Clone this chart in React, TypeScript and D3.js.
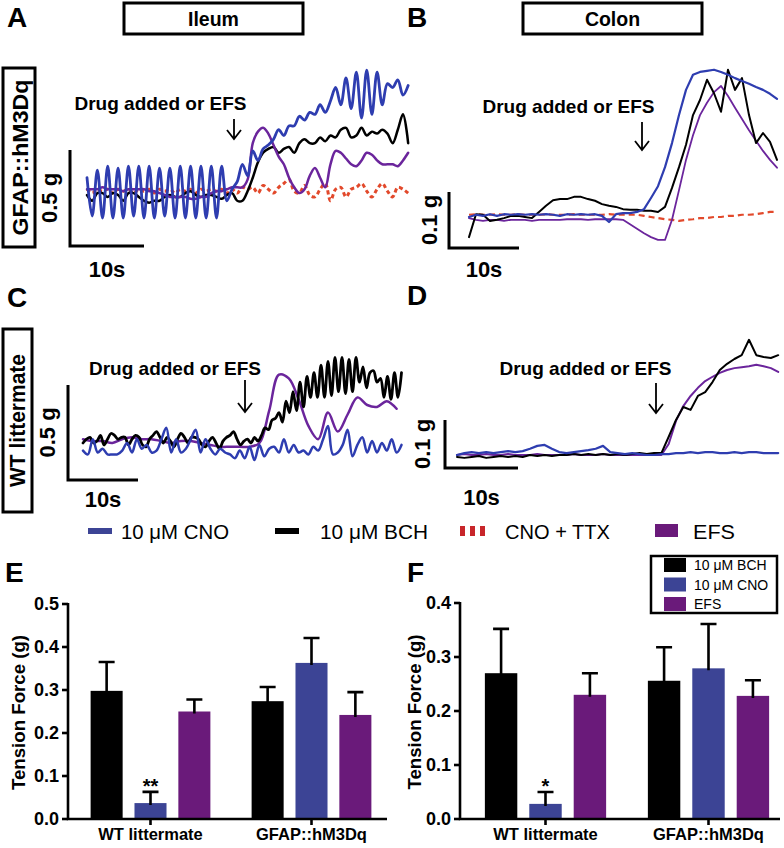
import React from 'react';
import * as d3 from 'd3';

const FONT = 'Liberation Sans, Arial, Helvetica, sans-serif';
const BLUE = '#2e3db0';
const PURPLE = '#6b259c';
const RED = '#e2492b';
const BAR_BLUE = '#3c4495';
const BAR_PURPLE = '#6a1a7a';

// ---------- isometric tension traces, g above resting baseline ----------

// A: ileum, GFAP::hM3Dq — one sample every 0.7 s
const ileumGfapDt = 0.7;
const ileumGfapCno = [
  0.09, -0.11, 0.13, -0.12, 0.15, -0.12, 0.14, -0.12, 0.15, -0.11, 0.15, -0.12, 0.15, -0.12, 0.14, -0.11,
  0.14, -0.12, 0.15, -0.12, 0.15, -0.12, 0.15, -0.12, 0.15, -0.12, 0.15, -0.03, 0.03, 0.07, 0.16, 0.1,
  0.23, 0.18, 0.24, 0.26, 0.29, 0.34, 0.31, 0.36, 0.36, 0.41, 0.39, 0.43, 0.42, 0.47, 0.43, 0.49,
  0.56, 0.47, 0.61, 0.45, 0.64, 0.4, 0.65, 0.42, 0.64, 0.47, 0.58, 0.56, 0.6, 0.52, 0.57,
];
const ileumGfapBch = [
  0, -0.03, 0.01, 0.01, -0.01, 0.01, 0, -0.03, 0.01, 0.01, -0.01, -0.03, -0.04, -0.03, -0.03, -0.01,
  0, -0.01, -0.01, 0.01, 0.02, 0, -0.01, 0, 0, -0.01, -0.02, 0, 0.01, -0.03, -0.03, 0.02,
  0.09, 0.17, 0.22, 0.24, 0.25, 0.22, 0.24, 0.25, 0.22, 0.27, 0.29, 0.27, 0.27, 0.3, 0.28, 0.31,
  0.3, 0.34, 0.35, 0.3, 0.31, 0.35, 0.31, 0.33, 0.32, 0.34, 0.32, 0.27, 0.34, 0.42, 0.27,
];
const ileumGfapEfs = [
  0.03, 0.03, 0.03, 0.04, 0.03, 0.03, 0.03, 0.02, 0.03, 0.03, 0.03, 0.03, 0.02, 0.02, 0.01, 0,
  -0.01, -0.01, -0.01, -0.01, -0.02, -0.02, -0.01, -0.01, 0.01, 0.02, 0.02, 0.03, 0.04, 0.04, 0.04, 0.08,
  0.27, 0.33, 0.35, 0.32, 0.26, 0.2, 0.16, 0.09, 0.04, 0.01, 0.03, 0.1, 0.14, 0.09, 0.04, 0.16,
  0.23, 0.22, 0.19, 0.16, 0.15, 0.18, 0.22, 0.21, 0.18, 0.16, 0.16, 0.16, 0.15, 0.18, 0.22,
];
const ileumGfapTtx = [
  0.03, 0.01, 0.03, 0.02, 0.03, 0.01, 0.03, 0.02, 0.03, 0.01, 0.03, 0.02, 0.03, 0.01, 0.03, 0.02,
  0.03, 0.01, 0.03, 0.02, 0.03, 0.01, 0.03, 0.02, 0.03, 0.02, 0.03, 0.01, 0.03, 0.01, 0.04, 0.03,
  0.04, 0.01, 0.05, 0.03, 0.01, 0.04, 0.06, 0.08, 0.02, 0.01, 0.05, 0, -0.01, 0.03, 0.06, -0.03,
  0.03, 0.04, -0.01, 0.03, 0.04, 0.06, 0.02, -0.01, 0.03, 0.06, 0.02, -0.01, 0.04, 0.03, 0.01,
];

// B: colon, GFAP::hM3Dq — one sample per second
const colonGfapDt = 1;
const colonGfapCno = [
  0, 0.004, 0.002, 0.005, 0.002, 0.005, 0.004, 0.005, 0.004, 0.005, 0.004, 0.005, 0.004, 0.002, 0.005,
  0.004, 0.005, 0.004, 0.005, 0.002, -0.009, 0.005, 0.007, 0.007, 0.009, 0.014, 0.034, 0.055, 0.089, 0.132,
  0.182, 0.227, 0.254, 0.259, 0.261, 0.263, 0.259, 0.254, 0.248, 0.243, 0.238, 0.232, 0.227, 0.22, 0.211,
];
const colonGfapBch = [
  -0.036, 0.005, 0.004, -0.007, -0.005, -0.002, 0.002, 0.002, 0, -0.002, 0.009, 0.02, 0.03, 0.032, 0.032,
  0.036, 0.036, 0.032, 0.029, 0.023, 0.02, 0.018, 0.014, 0.013, 0.013, 0.011, 0.011, 0.009, 0.018, 0.052,
  0.089, 0.129, 0.182, 0.209, 0.245, 0.221, 0.188, 0.263, 0.227, 0.248, 0.182, 0.132, 0.15, 0.134, 0.102,
];
const colonGfapEfs = [
  -0.002, -0.005, -0.007, -0.005, -0.005, -0.007, -0.005, -0.005, -0.005, -0.007, -0.005, -0.005, -0.005, -0.005, -0.004,
  -0.004, -0.004, -0.005, -0.004, -0.004, -0.004, -0.004, -0.005, -0.013, -0.021, -0.029, -0.036, -0.041, -0.041, -0.005,
  0.048, 0.102, 0.146, 0.182, 0.204, 0.223, 0.234, 0.216, 0.195, 0.175, 0.155, 0.136, 0.118, 0.102, 0.088,
];
const colonGfapTtx = [
  0.004, 0.005, 0.004, 0.004, 0.005, 0.004, 0.004, 0.005, 0.004, 0.004, 0.004, 0.005, 0.004, 0.004, 0.004,
  0.005, 0.004, 0.004, 0.004, 0.004, 0.005, 0.004, 0.004, 0.004, 0.004, 0.002, 0, -0.002, -0.004, -0.005,
  -0.007, -0.005, -0.004, -0.002, -0.002, 0, 0, 0.002, 0.002, 0.004, 0.004, 0.005, 0.007, 0.009, 0.009,
];

// C: ileum, WT littermate — each trace has its own sampling step
const ileumWtBchDt = 0.5;
const ileumWtBch = [
  0, 0.02, 0.03, 0, 0.01, 0.04, -0.01, 0.02, 0.05, 0.04, 0.02, 0.03, 0.03, -0.01, 0.02, 0.04,
  0.03, -0.01, -0.02, 0.02, 0.04, 0.06, 0.03, 0, 0.03, 0.01, -0.02, 0.02, 0.05, 0.03, 0, 0.03,
  0.03, 0.02, -0.01, -0.02, 0.01, 0.03, 0, -0.03, 0.01, 0.03, 0.04, 0.06, 0.02, -0.01, 0.01, 0.02,
  0, 0.03, 0.01, 0.04, 0.08, 0.07, 0.12, 0.13, 0.16, 0.11, 0.22, 0.16, 0.27, 0.17, 0.32, 0.19,
  0.35, 0.24, 0.37, 0.24, 0.41, 0.24, 0.43, 0.25, 0.45, 0.27, 0.45, 0.26, 0.44, 0.27, 0.45, 0.32,
  0.4, 0.29, 0.37, 0.38, 0.32, 0.34, 0.24, 0.35, 0.23, 0.37, 0.24, 0.37,
];
const ileumWtCnoDt = 0.7;
const ileumWtCno = [
  -0.04, -0.06, 0.02, -0.05, -0.03, -0.06, -0.06, -0.06, -0.04, 0, -0.05, 0.02, -0.03, -0.01, -0.05, -0.04,
  0.02, 0.08, -0.05, 0.02, -0.05, -0.03, 0.02, 0.07, -0.05, 0.02, -0.03, -0.06, -0.03, -0.05, -0.06, -0.08,
  -0.04, -0.08, -0.02, -0.09, -0.01, -0.07, -0.03, -0.02, -0.05, 0.02, -0.05, -0.01, -0.05, -0.04, -0.06, -0.02,
  -0.04, 0.02, 0.09, -0.06, -0.05, -0.01, 0.07, -0.07, -0.01, 0.03, -0.05, 0.01, -0.05, 0, -0.04, 0.02,
  -0.05, -0.01,
];
const ileumWtEfsDt = 1.4;
const ileumWtEfs = [
  0.02, 0.01, 0.01, 0, 0.02, 0.03, 0.02, 0.02, 0.01, 0, 0.01, 0.01, 0, -0.01, -0.02, -0.02,
  -0.02, -0.02, 0, 0.17, 0.36, 0.34, 0.23, 0.09, 0.02, 0.16, 0.06, 0.15, 0.24, 0.2, 0.19, 0.22, 0.18,
];

// D: colon, WT littermate — one sample per second
const colonWtDt = 1;
const colonWtCno = [
  0, 0.004, 0.006, 0.004, 0.006, 0.004, 0.006, 0.008, 0.006, 0.008, 0.013, 0.019, 0.021, 0.013, 0.006,
  0.004, 0.006, 0.008, 0.01, 0.013, 0.019, 0.006, 0.004, 0.002, 0.004, 0.002, 0, 0, 0.002, 0.002,
  0.004, 0.004, 0.006, 0.004, 0.006, 0.006, 0.004, 0.004, 0.006, 0.004, 0.006, 0.006, 0.004, 0.004, 0.004,
];
const colonWtBch = [
  -0.004, -0.006, -0.004, -0.002, -0.006, -0.004, -0.002, -0.004, -0.002, -0.004, 0, -0.002, 0, -0.002, 0,
  0, 0.002, 0, 0.002, 0, 0.002, 0, 0.002, 0, 0.002, 0.004, 0.002, 0.004, 0.004, 0.038,
  0.073, 0.1, 0.094, 0.123, 0.131, 0.152, 0.177, 0.19, 0.2, 0.208, 0.24, 0.208, 0.204, 0.202, 0.208,
];
const colonWtEfs = [
  0, 0.002, 0, 0, 0.002, 0, 0, 0.002, 0, 0, 0, 0.002, 0, 0, 0,
  0, 0.002, 0, 0, 0, 0.002, 0, 0, 0, 0, 0, 0, 0, 0, 0.023,
  0.071, 0.102, 0.123, 0.14, 0.154, 0.163, 0.171, 0.177, 0.181, 0.183, 0.185, 0.188, 0.185, 0.181, 0.173,
];

// ---------- summary bars (E: ileum, F: colon) ----------
const genotypes = ['WT littermate', 'GFAP::hM3Dq'];
const treatments = ['10 μM BCH', '10 μM CNO', 'EFS'];
const treatmentColors = ['#000000', BAR_BLUE, BAR_PURPLE];
const ileumMean = [[0.298, 0.037, 0.25], [0.274, 0.363, 0.242]];
const ileumSem = [[0.067, 0.026, 0.028], [0.033, 0.058, 0.053]];
const ileumStars = [['', '**', ''], ['', '', '']];
const ileumTicks = [0, 0.1, 0.2, 0.3, 0.4, 0.5];
const colonMean = [[0.27, 0.028, 0.23], [0.256, 0.279, 0.228]];
const colonSem = [[0.082, 0.022, 0.04], [0.062, 0.082, 0.029]];
const colonStars = [['', '*', ''], ['', '', '']];
const colonTicks = [0, 0.1, 0.2, 0.3, 0.4];

type Series = { values: number[]; dt: number; color: string; width: number; dash?: string };
type Layout = {
  x0: number; pxPerSec: number; baseY: number; pxPerG: number; smooth: boolean;
  barX: number; barY: number; barG: number; gLabel: string; gLabelX: number; secY: number;
  noteX: number; noteY: number; arrowX: number; arrowTop: number; arrowBottom: number;
};

function TracePanel({ L, series }: { L: Layout; series: Series[] }) {
  const x = d3.scaleLinear().domain([0, 10]).range([L.x0, L.x0 + 10 * L.pxPerSec]);
  const y = d3.scaleLinear().domain([0, 0.1]).range([L.baseY, L.baseY - 0.1 * L.pxPerG]);
  const barH = y(0) - y(L.barG);
  const barW = x(10) - x(0);
  return (
    <g>
      {series.map((s, i) => {
        const line = d3
          .line<number>()
          .x((_, j) => x(j * s.dt))
          .y((v) => y(v))
          .curve(L.smooth ? d3.curveCatmullRom : d3.curveLinear);
        return (
          <path
            key={i}
            d={line(s.values) || ''}
            fill="none"
            stroke={s.color}
            strokeWidth={s.width}
            strokeDasharray={s.dash}
            strokeLinejoin="round"
            strokeLinecap={s.dash ? 'butt' : 'round'}
          />
        );
      })}
      <path d={`M${L.barX},${L.barY - barH}V${L.barY}H${L.barX + barW}`} fill="none" stroke="#000" strokeWidth={3} />
      <text
        transform={`translate(${L.gLabelX},${L.barY - barH / 2}) rotate(-90)`}
        textAnchor="middle"
        fontSize={22}
        fontWeight="bold"
      >
        {L.gLabel}
      </text>
      <text x={L.barX + barW / 2} y={L.secY} textAnchor="middle" fontSize={22} fontWeight="bold">
        10s
      </text>
      <text x={L.noteX} y={L.noteY} textAnchor="middle" fontSize={19} fontWeight="bold">
        Drug added or EFS
      </text>
      <path
        d={`M${L.arrowX},${L.arrowTop}V${L.arrowBottom}M${L.arrowX - 7},${L.arrowBottom - 9}L${L.arrowX},${L.arrowBottom}L${L.arrowX + 7},${L.arrowBottom - 9}`}
        fill="none"
        stroke="#000"
        strokeWidth={1.8}
      />
    </g>
  );
}

type BarProps = {
  means: number[][]; sems: number[][]; stars: string[][]; ticks: number[];
  axisX: number; axisEnd: number; top: number; bottom: number; groupRange: [number, number]; labelX: number;
};

function BarPanel({ means, sems, stars, ticks, axisX, axisEnd, top, bottom, groupRange, labelX }: BarProps) {
  const y = d3.scaleLinear().domain([0, ticks[ticks.length - 1]]).range([bottom, top]);
  const xg = d3.scaleBand().domain(genotypes).range(groupRange);
  const xt = d3.scaleBand().domain(treatments).range([0, xg.bandwidth()]).paddingInner(0.27).paddingOuter(0.47);
  const fmt = d3.format('.1f');
  return (
    <g fontWeight="bold">
      {genotypes.map((g, gi) =>
        treatments.map((t, ti) => {
          const bx = (xg(g) || 0) + (xt(t) || 0);
          const cx = bx + xt.bandwidth() / 2;
          const yTop = y(means[gi][ti] + sems[gi][ti]);
          return (
            <g key={g + t}>
              <rect x={bx} y={y(means[gi][ti])} width={xt.bandwidth()} height={bottom - y(means[gi][ti])} fill={treatmentColors[ti]} />
              <path d={`M${cx},${y(means[gi][ti]) + 2}V${yTop}M${cx - 8},${yTop}H${cx + 8}`} stroke="#000" strokeWidth={2.6} fill="none" />
              {stars[gi][ti] && (
                <text x={cx} y={yTop + 1} textAnchor="middle" fontSize={20}>
                  {stars[gi][ti]}
                </text>
              )}
            </g>
          );
        })
      )}
      <path d={`M${axisX},${top - 1}V${bottom}H${axisEnd}`} fill="none" stroke="#000" strokeWidth={2.6} />
      {ticks.map((t) => (
        <g key={t}>
          <line x1={axisX - 6} x2={axisX} y1={y(t)} y2={y(t)} stroke="#000" strokeWidth={2.6} />
          <text x={axisX - 9} y={y(t)} dy="0.36em" textAnchor="end" fontSize={18}>
            {fmt(t)}
          </text>
        </g>
      ))}
      {genotypes.map((g) => {
        const cx = (xg(g) || 0) + xg.bandwidth() / 2;
        return (
          <g key={g}>
            <line x1={cx} x2={cx} y1={bottom} y2={bottom + 6} stroke="#000" strokeWidth={2.6} />
            <text x={cx} y={bottom + 21} textAnchor="middle" fontSize={16.5}>
              {g}
            </text>
          </g>
        );
      })}
      <text
        transform={`translate(${labelX},${(top + bottom) / 2 + 1}) rotate(-90)`}
        textAnchor="middle"
        fontSize={17.5}
        textLength={155}
        lengthAdjust="spacingAndGlyphs"
      >
        Tension Force (g)
      </text>
    </g>
  );
}

const layoutA: Layout = {
  x0: 87, pxPerSec: 7.4, baseY: 195, pxPerG: 192, smooth: true,
  barX: 70, barY: 246, barG: 0.5, gLabel: '0.5 g', gLabelX: 57, secY: 277,
  noteX: 160.5, noteY: 110, arrowX: 234, arrowTop: 119, arrowBottom: 139,
};
const layoutB: Layout = {
  x0: 469, pxPerSec: 7, baseY: 217, pxPerG: 560, smooth: false,
  barX: 449, barY: 248, barG: 0.1, gLabel: '0.1 g', gLabelX: 437, secY: 277,
  noteX: 568.5, noteY: 113, arrowX: 642, arrowTop: 122, arrowBottom: 150,
};
const layoutC: Layout = {
  x0: 83, pxPerSec: 7, baseY: 443, pxPerG: 190, smooth: true,
  barX: 68, barY: 480, barG: 0.5, gLabel: '0.5 g', gLabelX: 55, secY: 507,
  noteX: 175, noteY: 375, arrowX: 245, arrowTop: 380, arrowBottom: 412,
};
const layoutD: Layout = {
  x0: 457, pxPerSec: 7.3, baseY: 455, pxPerG: 480, smooth: false,
  barX: 445, barY: 468, barG: 0.1, gLabel: '0.1 g', gLabelX: 430, secY: 505,
  noteX: 585.5, noteY: 375, arrowX: 656, arrowTop: 383, arrowBottom: 413,
};

const PanelLetter = ({ x, y, t }: { x: number; y: number; t: string }) => (
  <text x={x} y={y} fontSize={28} fontWeight="bold">
    {t}
  </text>
);

const BoxLabel = ({ x, y, w, h, t, vertical, len }: { x: number; y: number; w: number; h: number; t: string; vertical?: boolean; len: number }) => (
  <g>
    <rect x={x} y={y} width={w} height={h} fill="#fff" stroke="#000" strokeWidth={3} />
    {vertical ? (
      <text
        transform={`translate(${x + w - 7},${y + h / 2}) rotate(-90)`}
        textAnchor="middle"
        fontSize={22}
        fontWeight="bold"
        textLength={len}
        lengthAdjust="spacingAndGlyphs"
      >
        {t}
      </text>
    ) : (
      <text x={x + w / 2} y={y + h / 2} dy="0.36em" textAnchor="middle" fontSize={19.5} fontWeight="bold">
        {t}
      </text>
    )}
  </g>
);

export default function App() {
  return (
    <svg
      width={784}
      height={848}
      viewBox="0 0 784 848"
      style={{ position: 'absolute', left: 0, top: 0, background: '#fff' }}
      fontFamily={FONT}
    >
      <rect width={784} height={848} fill="#fff" />

      <TracePanel
        L={layoutA}
        series={[
          { values: ileumGfapTtx, dt: ileumGfapDt, color: RED, width: 3, dash: '4 3' },
          { values: ileumGfapBch, dt: ileumGfapDt, color: '#000', width: 2.5 },
          { values: ileumGfapEfs, dt: ileumGfapDt, color: PURPLE, width: 2.5 },
          { values: ileumGfapCno, dt: ileumGfapDt, color: BLUE, width: 2.8 },
        ]}
      />
      <TracePanel
        L={layoutB}
        series={[
          { values: colonGfapTtx, dt: colonGfapDt, color: RED, width: 2.2, dash: '6 4' },
          { values: colonGfapEfs, dt: colonGfapDt, color: PURPLE, width: 1.8 },
          { values: colonGfapBch, dt: colonGfapDt, color: '#000', width: 2 },
          { values: colonGfapCno, dt: colonGfapDt, color: BLUE, width: 2.2 },
        ]}
      />
      <TracePanel
        L={layoutC}
        series={[
          { values: ileumWtEfs, dt: ileumWtEfsDt, color: PURPLE, width: 2.5 },
          { values: ileumWtBch, dt: ileumWtBchDt, color: '#000', width: 2.8 },
          { values: ileumWtCno, dt: ileumWtCnoDt, color: BLUE, width: 2.5 },
        ]}
      />
      <TracePanel
        L={layoutD}
        series={[
          { values: colonWtEfs, dt: colonWtDt, color: PURPLE, width: 2 },
          { values: colonWtBch, dt: colonWtDt, color: '#000', width: 2 },
          { values: colonWtCno, dt: colonWtDt, color: BLUE, width: 2.2 },
        ]}
      />

      <PanelLetter x={7} y={27} t="A" />
      <PanelLetter x={407} y={27} t="B" />
      <PanelLetter x={7} y={307} t="C" />
      <PanelLetter x={407} y={305} t="D" />
      <PanelLetter x={5} y={582} t="E" />
      <PanelLetter x={407} y={582} t="F" />

      <BoxLabel x={124} y={3} w={179} h={31} t="Ileum" len={0} />
      <BoxLabel x={523} y={3} w={179} h={31} t="Colon" len={0} />
      <BoxLabel x={3} y={68} w={32} h={179} t="GFAP::hM3Dq" vertical len={156} />
      <BoxLabel x={3} y={329} w={29} h={183} t="WT littermate" vertical len={133} />

      {/* trace legend */}
      <g fontSize={20}>
        <rect x={88} y={528} width={24} height={6} fill={BAR_BLUE} />
        <text x={121} y={539} textLength={108} lengthAdjust="spacingAndGlyphs">10 μM CNO</text>
        <rect x={275} y={528} width={24} height={6} fill="#000" />
        <text x={320} y={539} textLength={108} lengthAdjust="spacingAndGlyphs">10 μM BCH</text>
        {[0, 1, 2].map((i) => (
          <rect key={i} x={460 + i * 10} y={526} width={5} height={10} fill="#c8262a" />
        ))}
        <text x={505} y={539} textLength={105} lengthAdjust="spacingAndGlyphs">CNO + TTX</text>
        <rect x={655} y={524} width={23} height={13} fill={BAR_PURPLE} />
        <text x={693} y={539} textLength={42} lengthAdjust="spacingAndGlyphs">EFS</text>
      </g>

      <BarPanel
        means={ileumMean}
        sems={ileumSem}
        stars={ileumStars}
        ticks={ileumTicks}
        axisX={68}
        axisEnd={387}
        top={604}
        bottom={819}
        groupRange={[70, 392]}
        labelX={25}
      />
      <BarPanel
        means={colonMean}
        sems={colonSem}
        stars={colonStars}
        ticks={colonTicks}
        axisX={460}
        axisEnd={780}
        top={603}
        bottom={819}
        groupRange={[464, 790]}
        labelX={421}
      />

      {/* bar legend */}
      <g>
        <rect x={651} y={556} width={126} height={57} fill="#fff" stroke="#000" strokeWidth={2.5} />
        {treatments.map((t, i) => (
          <g key={t}>
            <rect x={664} y={558 + i * 19.5} width={22} height={14} fill={treatmentColors[i]} />
            <text x={694} y={565 + i * 19.5} dy="0.36em" fontSize={14}>
              {t}
            </text>
          </g>
        ))}
      </g>
    </svg>
  );
}
